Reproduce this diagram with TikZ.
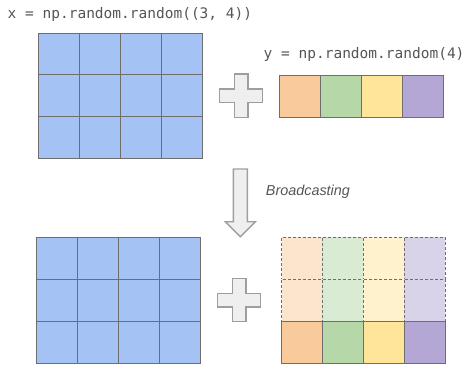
\documentclass[tikz,border=0pt]{standalone}
\usepackage{fontspec}
\setmonofont{DejaVu Sans Mono}
\setsansfont{Liberation Sans}
\usetikzlibrary{calc}
\definecolor{cellblue}{HTML}{A4C2F4}
\definecolor{cellorange}{HTML}{F9CB9C}
\definecolor{cellgreen}{HTML}{B6D7A8}
\definecolor{cellyellow}{HTML}{FFE599}
\definecolor{cellpurple}{HTML}{B4A7D6}
\definecolor{gridline}{HTML}{6E6E6E}
\definecolor{signgray}{HTML}{9E9E9E}
\definecolor{signfill}{HTML}{EFEFEF}
\definecolor{textgray}{HTML}{555555}
\tikzset{
  cell/.style={
    draw=gridline,
    line width=1pt,
    inner sep=0pt,
    outer sep=0pt,
    minimum width=41pt,
    minimum height=42pt
  },
  cell-faded/.style={cell, dash pattern=on 3pt off 2pt},
  sign/.style={draw=signgray, fill=signfill, line width=1.4pt, line join=miter},
  code/.style={text=textgray, anchor=base west, inner sep=0pt,
    font=\ttfamily\fontsize{14.5}{17}\selectfont},
  caption/.style={text=textgray, anchor=base west, inner sep=0pt,
    font=\sffamily\itshape\fontsize{14.4}{17}\selectfont}
}
\newcommand{\plussign}[2]{
  \draw[sign, shift={(#1,#2)}] (-6.8,-21.7) -- (6.8,-21.7) -- (6.8,-6.8) -- (21.7,-6.8)
    -- (21.7,6.8) -- (6.8,6.8) -- (6.8,21.7) -- (-6.8,21.7) -- (-6.8,6.8)
    -- (-21.7,6.8) -- (-21.7,-6.8) -- (-6.8,-6.8) -- cycle;
}
\newcommand{\blockarrow}[2]{
  \draw[sign, shift={(#1,#2)}] (-7,0) -- (7,0) -- (7,52.7) -- (15,52.7) -- (0,67.7)
    -- (-15,52.7) -- (-7,52.7) -- cycle;
}

\begin{document}
\begin{tikzpicture}[x=1pt, y=-1pt]
  \useasboundingbox (0,0) rectangle (468,364);

  % Labels
  \node[code] (x-label) at (7.5,18.3) {x = np.random.random((3, 4))};
  \node[code] (y-label) at (263.5,58) {y = np.random.random(4)};
  \node[caption] (bcast) at (265.7,195) {Broadcasting};

  % x, 3 x 4
  \foreach \r in {0,1,2} {
    \foreach \c in {0,1,2,3} {
      \node[cell, fill=cellblue] (x-\r-\c) at (59+41*\c, 54+41.7*\r) {};
    }
  }
  % y, one row of 4
  \foreach \col [count=\c from 0] in {cellorange,cellgreen,cellyellow,cellpurple} {
    \node[cell, fill=\col] (y-\c) at (299.5+41*\c, 96) {};
  }
  \plussign{241}{95.7}

  % Broadcasting step
  \blockarrow{240.4}{169}

  % x again
  \foreach \r in {0,1,2} {
    \foreach \c in {0,1,2,3} {
      \node[cell, fill=cellblue] (xb-\r-\c) at (56.5+41.2*\c, 258.3+42*\r) {};
    }
  }
  \plussign{239}{300}
  % y stretched to 3 rows: copies dashed, original row solid
  \foreach \col [count=\c from 0] in {cellorange,cellgreen,cellyellow,cellpurple} {
    \node[cell-faded, fill=\col!50] (yb-0-\c) at (302+40.9*\c, 258.3) {};
    \node[cell-faded, fill=\col!50] (yb-1-\c) at (302+40.9*\c, 300.3) {};
    \node[cell, fill=\col] (yb-2-\c) at (302+40.9*\c, 342.3) {};
  }
\end{tikzpicture}
\end{document}
